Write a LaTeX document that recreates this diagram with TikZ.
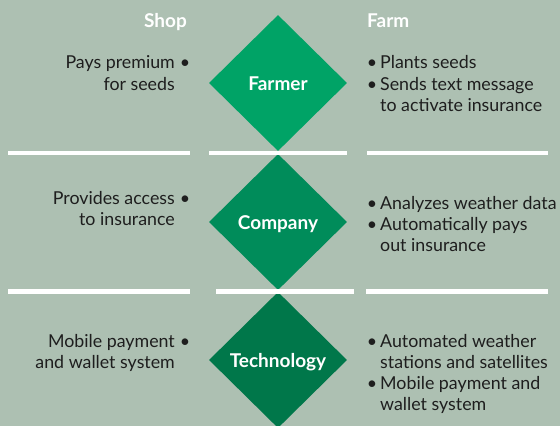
\documentclass[tikz,border=0pt]{standalone}
\usepackage{fontspec}
\setmainfont{Lato}
\usetikzlibrary{shapes.geometric}
\definecolor{bg}{HTML}{ADC0B2}
\definecolor{gA}{HTML}{00A366}
\definecolor{gB}{HTML}{008C5A}
\definecolor{gC}{HTML}{00774A}
\definecolor{ink}{HTML}{1E1E1E}
\begin{document}
\begin{tikzpicture}[x=1pt,y=-1pt,
  body/.style={font=\fontsize{17.8}{21}\selectfont, text=ink, inner sep=0pt},
  lt/.style={body, anchor=base east},
  rt/.style={body, anchor=base west},
  bul/.style={body, anchor=base},
  head/.style={font=\bfseries\fontsize{19}{21}\selectfont, text=white, inner sep=0pt},
  lab/.style={head, anchor=base},
  dia/.style={diamond, shape aspect=1, minimum width=138pt, minimum height=136pt, inner sep=0pt, draw=none},
  bar/.style={fill=white}]
\fill[bg] (0,0) rectangle (560,426);
\useasboundingbox (0,0) rectangle (560,426);
% diamonds
\node[dia, fill=gA] (farmer) at (278,83) {};
\node[dia, fill=gB] (company) at (278,222) {};
\node[dia, fill=gC] (tech) at (278,360) {};
\node[lab] (farmerlab) at ([yshift=-7pt]farmer.center) {Farmer};
\node[lab] (companylab) at ([yshift=-7pt]company.center) {Company};
\node[lab] (techlab) at ([yshift=-7pt]tech.center) {Technology};
% bars
\fill[bar] (8,150.5) rectangle (190,155);
\fill[bar] (209,150.5) rectangle (347,155);
\fill[bar] (367,150.5) rectangle (548,155);
\fill[bar] (8,289) rectangle (190,293.5);
\fill[bar] (216,289) rectangle (354,293.5);
\fill[bar] (366,289) rectangle (548,293.5);
% headers
\node[head, anchor=base east] (shop) at (187,27) {Shop};
\node[head, anchor=base west] (farm) at (367,27) {Farm};
% farmer row
\node[lt] (f1) at (175,68) {Pays premium};
\node[bul] (fb1) at (185,68) {\textbullet};
\node[lt] (f2) at (175,90) {for seeds};
\node[bul] (frb1) at (372,68) {\textbullet};
\node[rt] (fr1) at (380,68) {Plants seeds};
\node[bul] (frb2) at (372,90) {\textbullet};
\node[rt] (fr2) at (380,90) {Sends text message};
\node[rt] (fr3) at (380,111) {to activate insurance};
% company row
\node[lt] (c1) at (175,204) {Provides access};
\node[bul] (cb1) at (185,204) {\textbullet};
\node[lt] (c2) at (175,225) {to insurance};
\node[bul] (crb1) at (372,209) {\textbullet};
\node[rt] (cr1) at (380,209) {Analyzes weather data};
\node[bul] (crb2) at (372,230) {\textbullet};
\node[rt] (cr2) at (380,230) {Automatically pays};
\node[rt] (cr3) at (380,251) {out insurance};
% technology row
\node[lt] (t1) at (175,347) {Mobile payment};
\node[bul] (tb1) at (185,347) {\textbullet};
\node[lt] (t2) at (175,368) {and wallet system};
\node[bul] (trb1) at (372,347) {\textbullet};
\node[rt] (tr1) at (380,347) {Automated weather};
\node[rt] (tr2) at (380,368) {stations and satellites};
\node[bul] (trb2) at (372,389) {\textbullet};
\node[rt] (tr3) at (380,389) {Mobile payment and};
\node[rt] (tr4) at (380,410) {wallet system};
\end{tikzpicture}
\end{document}
